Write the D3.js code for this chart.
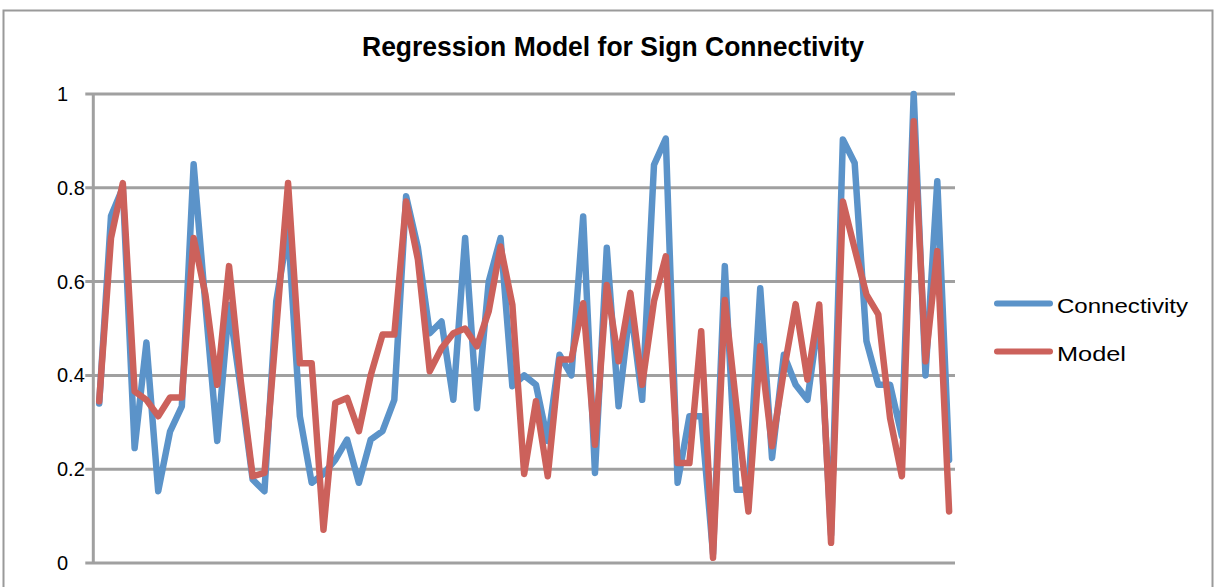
<!DOCTYPE html>
<html>
<head>
<meta charset="utf-8">
<script src="https://cdn.jsdelivr.net/npm/d3@7"></script>
<style>
  html, body { margin: 0; padding: 0; background: #ffffff; }
  svg { display: block; }
</style>
</head>
<body>
<svg id="chart" width="1218" height="587"></svg>
<script>
// Observed sign connectivity and the regression model's fitted values, per sample
const connectivity = [
  0.34, 0.74, 0.80, 0.245, 0.47, 0.153, 0.28, 0.334, 0.85, 0.55,
  0.26, 0.55, 0.37, 0.178, 0.153, 0.558, 0.71, 0.313, 0.171, 0.19,
  0.22, 0.263, 0.171, 0.263, 0.281, 0.348, 0.782, 0.672, 0.49, 0.515,
  0.348, 0.693, 0.33, 0.60, 0.693, 0.377, 0.40, 0.38, 0.26, 0.444,
  0.40, 0.739, 0.192, 0.672, 0.334, 0.55, 0.348, 0.849, 0.905, 0.171,
  0.313, 0.313, 0.02, 0.633, 0.156, 0.156, 0.586, 0.224, 0.444, 0.38,
  0.348, 0.53, 0.06, 0.903, 0.853, 0.473, 0.38, 0.38, 0.27, 1.0,
  0.40, 0.814, 0.22
];
const model = [
  0.345, 0.693, 0.81, 0.366, 0.348, 0.313, 0.353, 0.353, 0.693, 0.572,
  0.38, 0.633, 0.387, 0.185, 0.192, 0.50, 0.81, 0.426, 0.426, 0.071,
  0.341, 0.352, 0.281, 0.40, 0.487, 0.487, 0.771, 0.647, 0.409, 0.458,
  0.49, 0.50, 0.462, 0.537, 0.675, 0.551, 0.19, 0.345, 0.185, 0.434,
  0.434, 0.554, 0.252, 0.593, 0.43, 0.576, 0.38, 0.558, 0.654, 0.213,
  0.213, 0.494, 0.011, 0.561, 0.33, 0.11, 0.462, 0.249, 0.41, 0.552,
  0.391, 0.551, 0.043, 0.771, 0.67, 0.572, 0.53, 0.309, 0.185, 0.942,
  0.43, 0.665, 0.11
];
const categories = connectivity.map((_, i) => i + 1);
const yTickValues = [0, 0.2, 0.4, 0.6, 0.8, 1];
const yTickLabels = ["0", "0.2", "0.4", "0.6", "0.8", "1"];
const seriesNames = ["Connectivity", "Model"];
const seriesColors = ["#5b93c9", "#cc615b"];

const svg = d3.select("#chart");

// Chart frame
svg.append("rect")
  .attr("x", 3.5).attr("y", 10.5)
  .attr("width", 1209).attr("height", 620)
  .attr("fill", "#ffffff")
  .attr("stroke", "#9a9a9a").attr("stroke-width", 2);

// Title (condensed bold)
svg.append("text")
  .attr("x", 613).attr("y", 56)
  .attr("text-anchor", "middle")
  .attr("font-family", "'Liberation Sans Narrow', 'Liberation Sans', Arial, sans-serif")
  .attr("font-weight", "bold")
  .attr("font-size", 27)
  .attr("textLength", 502)
  .attr("lengthAdjust", "spacingAndGlyphs")
  .attr("fill", "#000")
  .text("Regression Model for Sign Connectivity");

// Plot area geometry
const plot = { left: 93.3, right: 955, top: 94, bottom: 563 };

const x = d3.scalePoint()
  .domain(categories)
  .range([plot.left, plot.right])
  .padding(0.5);

const y = d3.scaleLinear()
  .domain([0, 1])
  .range([plot.bottom, plot.top]);

// Horizontal gridlines (with short outer ticks left of the axis)
svg.append("g")
  .selectAll("line")
  .data(yTickValues)
  .join("line")
  .attr("x1", plot.left - 8)
  .attr("x2", plot.right)
  .attr("y1", d => y(d))
  .attr("y2", d => y(d))
  .attr("stroke", "#a0a0a0")
  .attr("stroke-width", 3);

// Vertical value axis line
svg.append("line")
  .attr("x1", plot.left).attr("x2", plot.left)
  .attr("y1", y(1)).attr("y2", y(0))
  .attr("stroke", "#a0a0a0")
  .attr("stroke-width", 3);

// Value axis labels
svg.append("g")
  .selectAll("text")
  .data(yTickValues)
  .join("text")
  .attr("x", 57)
  .attr("y", d => y(d) + 7)
  .attr("font-family", "'Liberation Sans', Arial, sans-serif")
  .attr("font-size", 20)
  .attr("fill", "#000")
  .text((d, i) => yTickLabels[i]);

// Series lines
const line = d3.line()
  .x((d, i) => x(categories[i]))
  .y(d => y(d));

[connectivity, model].forEach((values, k) => {
  svg.append("path")
    .datum(values)
    .attr("d", line)
    .attr("fill", "none")
    .attr("stroke", seriesColors[k])
    .attr("stroke-width", 6.5)
    .attr("stroke-linejoin", "round")
    .attr("stroke-linecap", "round");
});

// Legend
const legend = svg.append("g");
seriesNames.forEach((name, k) => {
  const ly = 303.5 + k * 48;
  legend.append("line")
    .attr("x1", 997).attr("x2", 1050)
    .attr("y1", ly).attr("y2", ly)
    .attr("stroke", seriesColors[k])
    .attr("stroke-width", 6)
    .attr("stroke-linecap", "round");
  legend.append("text")
    .attr("x", 1057).attr("y", ly + 9)
    .attr("font-family", "'Liberation Sans', Arial, sans-serif")
    .attr("font-size", 21)
    .attr("fill", "#000")
    .attr("textLength", k === 0 ? 131 : 69)
    .attr("lengthAdjust", "spacingAndGlyphs")
    .text(name);
});
</script>
</body>
</html>
